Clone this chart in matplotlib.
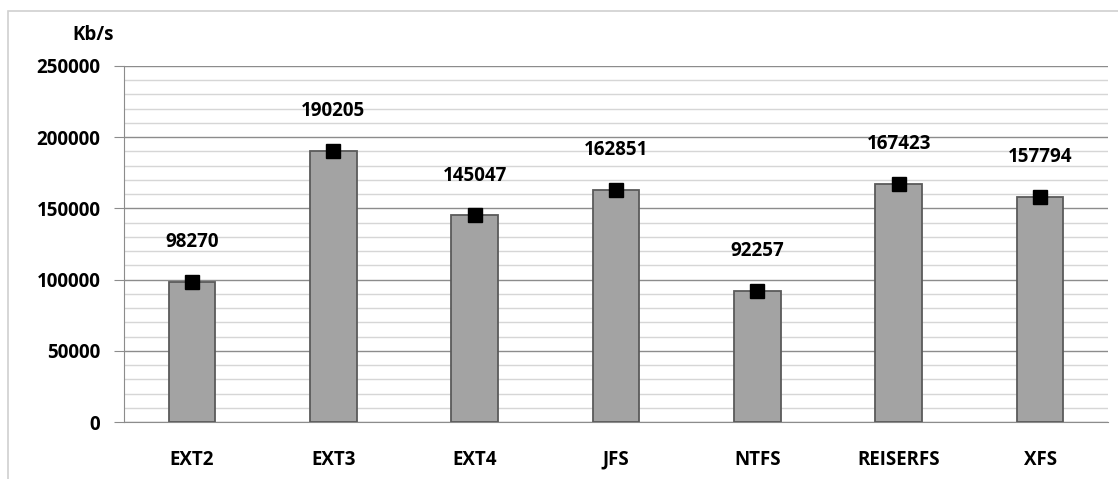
import matplotlib.pyplot as plt
from matplotlib.patches import Rectangle

# data
systems = ['EXT2', 'EXT3', 'EXT4', 'JFS', 'NTFS', 'REISERFS', 'XFS']
speeds = [98270, 190205, 145047, 162851, 92257, 167423, 157794]

plt.rcParams['font.family'] = ['Open Sans', 'DejaVu Sans']
plt.rcParams['font.weight'] = 'bold'

fig = plt.figure(figsize=(11.18, 4.79), dpi=100)
ax = fig.add_axes([124 / 1118, (479 - 422) / 479, (1108 - 124) / 1118, (422 - 66) / 479])

# outer chart frame
fig.patches.append(Rectangle((8 / 1118, -0.1), 1.2, (479 - 11) / 479 + 0.1,
                             transform=fig.transFigure, fill=False,
                             edgecolor='#d0d0d0', linewidth=1.2))

x = range(len(systems))
ax.bar(x, speeds, width=0.33, color='#a3a3a3', edgecolor='#5a5a5a', linewidth=1.3, zorder=3)
ax.plot(x, speeds, 's', color='black', markersize=10.5, linestyle='none', zorder=4)
for i, v in enumerate(speeds):
    ax.text(i, v + 21000, str(v), ha='center', va='bottom', fontsize=13.5, fontweight='bold')

ax.set_xlim(-0.48, len(systems) - 0.52)
ax.set_ylim(0, 250000)
ax.set_yticks(range(0, 250001, 50000))
ax.set_yticks(range(0, 250001, 10000), minor=True)
ax.grid(axis='y', which='major', color='#8c8c8c', linewidth=1.0, zorder=0)
ax.grid(axis='y', which='minor', color='#d6d6d6', linewidth=1.0, zorder=0)
ax.set_xticks(list(x))
ax.set_xticklabels(systems, fontsize=13.5, fontweight='bold')
ax.tick_params(axis='x', length=0, pad=20)
ax.tick_params(axis='y', which='major', length=7, color='#8c8c8c', labelsize=13.5, pad=10)
ax.tick_params(axis='y', which='minor', length=0)
for lbl in ax.get_yticklabels():
    lbl.set_fontweight('bold')

for s in ['top', 'right']:
    ax.spines[s].set_visible(False)
ax.spines['left'].set_color('#8c8c8c')
ax.spines['bottom'].set_color('#8c8c8c')

fig.text(114 / 1118, 1 - 35 / 479, 'Kb/s', ha='right', va='center', fontsize=13.5, fontweight='bold')

fig.savefig('out.png')
